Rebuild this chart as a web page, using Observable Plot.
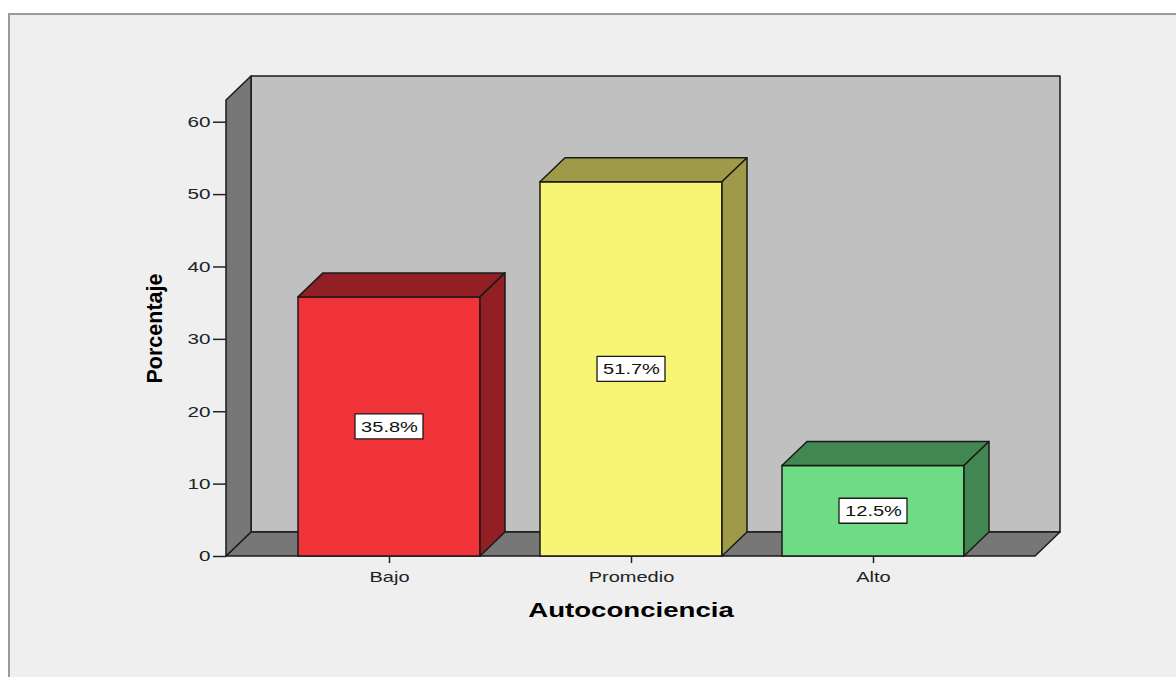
<!DOCTYPE html>
<html><head><meta charset="utf-8">
<script src="https://cdn.jsdelivr.net/npm/d3@7"></script>
<script src="https://cdn.jsdelivr.net/npm/@observablehq/plot@0.6"></script>
<style>
html,body{margin:0;padding:0;background:#fff;}
#wrap{position:relative;width:1176px;height:677px;overflow:hidden;}
#frame{position:absolute;left:8px;top:13px;width:1200px;height:720px;background:#efefef;border-left:2px solid #9a9a9a;border-top:2px solid #9a9a9a;}
#chart{position:absolute;left:0;top:0;}
</style></head><body>
<div id="wrap"><div id="frame"></div><div id="chart"></div></div>
<script>
// ---- data ----
const categories = ["Bajo", "Promedio", "Alto"];
const percentages = [35.8, 51.7, 12.5];
const frontColors = ["#f03239", "#f9f574", "#6fdc85"];
const sideColors = ["#921f23", "#9e9a48", "#428651"];
const yTicks = [0, 10, 20, 30, 40, 50, 60];
const yMax = 63;
const yLabel = "Porcentaje";
const xLabel = "Autoconciencia";

const data = categories.map((c, i) => ({cat: c, value: percentages[i], front: frontColors[i], side: sideColors[i]}));

const DX = 25, DY = 24;      // 3D depth offset
const EDGE = "#1a1a1a";
const FONT = "'Liberation Sans', Arial, sans-serif";

function bandwidthOf(sx) {
  return typeof sx.bandwidth === "function" ? sx.bandwidth() : sx.bandwidth;
}

// floor, left wall and back wall
function walls(index, scales, values, dim) {
  const sy = scales.y;
  const x0 = dim.marginLeft, x1 = dim.width - dim.marginRight;
  const yb = sy(0), yt = sy(yMax);
  const g = d3.create("svg:g").attr("stroke", EDGE).attr("stroke-width", 1.5).attr("stroke-linejoin", "round");
  g.append("rect").attr("x", x0 + DX).attr("y", yt - DY).attr("width", x1 - x0).attr("height", yb - yt).attr("fill", "#c0c0c0");
  g.append("polygon").attr("points", [[x0, yb], [x1, yb], [x1 + DX, yb - DY], [x0 + DX, yb - DY]].join(" ")).attr("fill", "#777777");
  g.append("polygon").attr("points", [[x0, yb], [x0, yt], [x0 + DX, yt - DY], [x0 + DX, yb - DY]].join(" ")).attr("fill", "#777777");
  return g.node();
}

// top & side faces of the bars + label boxes
function faces(index, scales) {
  const sx = scales.x, sy = scales.y;
  const bw = bandwidthOf(sx);
  const g = d3.create("svg:g").attr("stroke", EDGE).attr("stroke-width", 1.5).attr("stroke-linejoin", "round");
  for (const d of data) {
    const xa = sx(d.cat), xb = xa + bw, yt = sy(d.value), y0 = sy(0);
    g.append("polygon").attr("fill", d.side)
      .attr("points", [[xa, yt], [xb, yt], [xb + DX, yt - DY], [xa + DX, yt - DY]].join(" "));
    g.append("polygon").attr("fill", d.side)
      .attr("points", [[xb, yt], [xb, y0], [xb + DX, y0 - DY], [xb + DX, yt - DY]].join(" "));
    const cx = xa + bw / 2, cy = sy(d.value / 2);
    g.append("rect").attr("x", cx - 34).attr("y", cy - 12.5).attr("width", 68).attr("height", 25)
      .attr("fill", "#ffffff").attr("stroke-width", 1.3);
  }
  return g.node();
}

const plot = Plot.plot({
  width: 1176,
  height: 677,
  marginLeft: 226,
  marginRight: 141,
  marginTop: 100,
  marginBottom: 121,
  style: {background: "transparent", fontFamily: FONT, color: "#222"},
  x: {domain: categories, paddingInner: 0.25, paddingOuter: 0.29, axis: null},
  y: {domain: [0, yMax], axis: null},
  color: {type: "identity"},
  marks: [
    walls,
    Plot.barY(data, {x: "cat", y: "value", fill: "front", stroke: EDGE, strokeWidth: 1.5, inset: 0}),
    faces,
    Plot.text(data, {x: "cat", y: d => d.value / 2, text: d => d.value.toFixed(1) + "%", fontSize: 14.5, fill: "#111"}),
    Plot.axisY({ticks: yTicks, tickSize: 13, tickPadding: 3, fontSize: 15, stroke: "#222", strokeWidth: 1.5, fill: "#222", label: null}),
    Plot.axisX({tickSize: 7, tickPadding: 8, fontSize: 14.5, stroke: "#222", strokeWidth: 1.5, fill: "#222", label: null}),
    Plot.text([yLabel], {frameAnchor: "left", textAnchor: "middle", lineAnchor: "middle", dx: -71, rotate: -90, fontSize: 21.5, fontWeight: "bold", fill: "#000"}),
    Plot.text([xLabel], {frameAnchor: "bottom", textAnchor: "middle", lineAnchor: "middle", dy: 54, fontSize: 20, fontWeight: "bold", fill: "#000"})
  ]
});

document.getElementById("chart").append(plot);

// the reference renders horizontal text wide: stretch it
const K = 1.38;
plot.querySelectorAll("text").forEach(t => {
  const tr = t.getAttribute("transform") || "";
  if (tr.includes("rotate")) return;
  const tspans = t.querySelectorAll("tspan");
  const targets = tspans.length ? Array.from(tspans) : [t];
  targets.forEach(el => {
    const L = el.getComputedTextLength();
    if (L > 0) {
      el.setAttribute("textLength", (L * K).toFixed(1));
      el.setAttribute("lengthAdjust", "spacingAndGlyphs");
    }
  });
});
</script>
</body></html>
